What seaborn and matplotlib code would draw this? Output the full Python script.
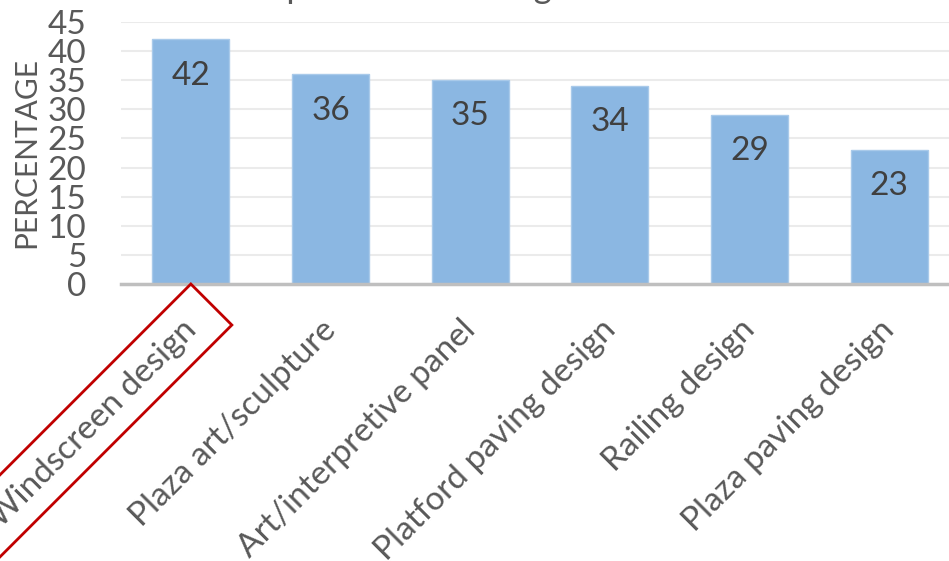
import matplotlib
matplotlib.use("Agg")
import matplotlib.pyplot as plt
import matplotlib.transforms as mtrans
from matplotlib.patches import Rectangle
import seaborn as sns
import pandas as pd

categories = ["Windscreen design", "Plaza art/sculpture", "Art/interpretive panel",
              "Platford paving design", "Railing design", "Plaza paving design"]
values = [42, 36, 35, 34, 29, 23]
yticks = [0, 5, 10, 15, 20, 25, 30, 35, 40, 45]
title_text = "Importance of design elements"

sns.set_theme(style="white")
plt.rcParams['font.family'] = ['Lato', 'DejaVu Sans']

df = pd.DataFrame({"category": categories, "value": values})

fig = plt.figure(figsize=(9.49, 5.61), dpi=100)
ax = fig.add_axes([121 / 949, 277 / 561, 838 / 949, 262 / 561])

sns.barplot(data=df, x="category", y="value", color="#8BB7E2", width=0.55,
            edgecolor="#A9CAEA", linewidth=1, saturation=1, ax=ax, zorder=3)

ax.set_ylim(0, 45)
ax.set_xlim(-0.5, 5.5)
ax.set_yticks(yticks)
ax.set_yticklabels([str(t) for t in yticks], fontsize=24, color="#595959")
ax.tick_params(axis="y", length=0, pad=25)
ax.tick_params(axis="x", length=0, pad=22)
for t in yticks[1:]:
    ax.axhline(t, color="#EBEBEB", lw=1.5, zorder=1)
for s in ["top", "right", "left"]:
    ax.spines[s].set_visible(False)
ax.spines["bottom"].set_color("#BFBFBF")
ax.spines["bottom"].set_linewidth(2.5)
ax.spines["bottom"].set_zorder(4)

ax.set_xlabel("")
ax.set_ylabel("PERCENTAGE", fontsize=21.5, color="#595959", labelpad=5)

xlabels = ax.set_xticklabels(categories, rotation=45, ha="right", va="top",
                             rotation_mode="anchor", fontsize=24, color="#595959")
shift = mtrans.ScaledTranslation(-10 / 100, 0, fig.dpi_scale_trans)
for lab in xlabels:
    lab.set_transform(lab.get_transform() + shift)

# red highlight frame around the first category label
frame_tr = (mtrans.Affine2D().rotate_deg(45)
            + mtrans.ScaledTranslation(0, 0, ax.get_xaxis_transform()))
frame = Rectangle((-520, -58), 520, 58, fill=False, ec="#C00000", lw=2,
                  transform=frame_tr, clip_on=False, zorder=6)
fig.add_artist(frame)

for i, v in enumerate(values):
    ax.annotate(str(v), (i, v), xytext=(0, -26), textcoords="offset points",
                ha="center", va="center", fontsize=24, color="#404040", zorder=5)

# title: only its descenders show at the top edge, as in the reference
title = fig.text(0, 1 + 1.5 / 561, title_text, fontsize=25, color="#595959",
                 ha="left", va="baseline")
fig.canvas.draw()
r = fig.canvas.get_renderer()
prefix = fig.text(0, 0, "Im", fontsize=25)
w = prefix.get_window_extent(renderer=r).width
prefix.remove()
title.set_x((286 - w) / 949)

fig.savefig("out.png", dpi=100)
